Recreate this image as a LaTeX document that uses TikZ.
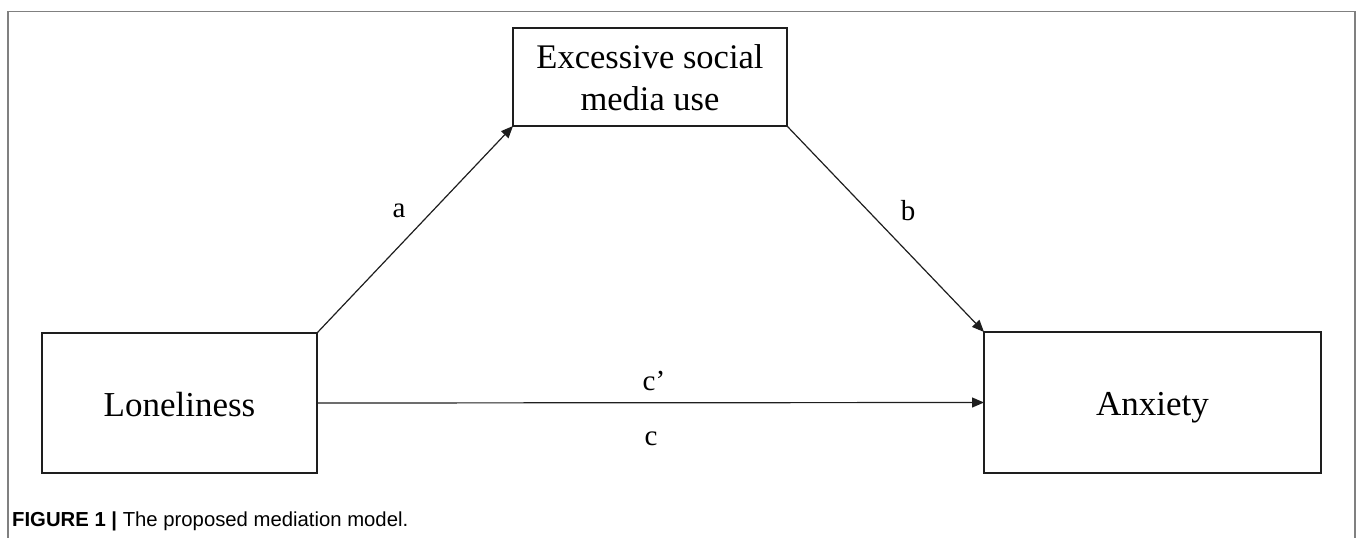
\documentclass[tikz,border=0pt]{standalone}
\usepackage{fontspec}
\setmainfont{Liberation Serif}
\newfontfamily\capfont{Liberation Sans}
\usetikzlibrary{arrows.meta}
\definecolor{framegray}{HTML}{808080}
\definecolor{inkdark}{HTML}{1E1E1E}
\tikzset{
  varbox/.style={draw=inkdark, line width=1.7pt, inner sep=0pt, outer sep=0pt,
    font=\fontsize{35}{42}\selectfont, align=center, text height=26pt, text depth=0pt},
  patharrow/.style={draw=inkdark, line width=1.2pt, -{Triangle[length=12pt,width=10pt]}},
  pathlabel/.style={font=\fontsize{29}{30}\selectfont, inner sep=0pt, anchor=base},
  framepath/.style={draw=framegray, line width=1.6pt}
}
\begin{document}
\begin{tikzpicture}[x=1pt,y=-1pt]
\useasboundingbox (0,0) rectangle (1360,538);
\draw[framepath] (8,540) -- (8,11.5) -- (1355,11.5) -- (1355,540);
\node[varbox, minimum width=275pt, minimum height=140pt] (lon) at (179.5,403) {Loneliness};
\node[varbox, minimum width=337pt, minimum height=141pt] (anx) at (1152.5,402.5) {Anxiety};
\node[varbox, minimum width=274pt, minimum height=98pt] (esm) at (650,77) {};
\node[font=\fontsize{34.5}{42}\selectfont, inner sep=0pt, anchor=base] (esm1) at (650,68) {Excessive social};
\node[font=\fontsize{34.5}{42}\selectfont, inner sep=0pt, anchor=base] (esm2) at (650,110) {media use};
\draw[patharrow] (lon.north east) -- (esm.south west);
\draw[patharrow] (esm.south east) -- (anx.north west);
\draw[patharrow] (lon.east) -- (anx.west);
\node[pathlabel] (la) at (399,217) {a};
\node[pathlabel] (lb) at (908,220) {b};
\node[pathlabel] (lcp) at (654,390) {c’};
\node[pathlabel] (lc) at (651,445) {c};
\node[font=\capfont\fontsize{20.3}{24}\selectfont, inner sep=0pt, anchor=base west] (cap) at (12,526) {{\bfseries FIGURE 1 |} The proposed mediation model.};
\end{tikzpicture}
\end{document}
